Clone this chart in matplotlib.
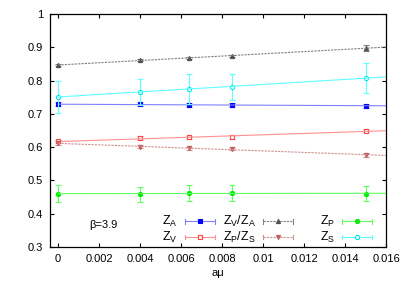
import numpy as np
import matplotlib
matplotlib.use("Agg")
import matplotlib.pyplot as plt

plt.rcParams['font.family'] = ['Liberation Sans', 'DejaVu Sans']
plt.rcParams['mathtext.fontset'] = 'custom'
plt.rcParams['mathtext.rm'] = 'Liberation Sans'
plt.rcParams['mathtext.it'] = 'Liberation Sans'

# data
amu = [0.0, 0.004, 0.0064, 0.0085, 0.015]

z_a = [0.729, 0.729, 0.726, 0.726, 0.725]
z_a_err = [0.006, 0.006, 0.006, 0.006, 0.006]

z_v = [0.617, 0.627, 0.629, 0.630, 0.649]
z_v_err = [0.005, 0.005, 0.005, 0.005, 0.005]

zv_za = [0.847, 0.861, 0.869, 0.874, 0.898]
zv_za_err = [0.003, 0.003, 0.003, 0.003, 0.008]

zp_zs = [0.611, 0.601, 0.596, 0.595, 0.576]
zp_zs_err = [0.006, 0.004, 0.004, 0.004, 0.007]

z_p = [0.460, 0.458, 0.462, 0.462, 0.460]
z_p_err = [0.025, 0.022, 0.025, 0.023, 0.022]

z_s = [0.751, 0.766, 0.776, 0.781, 0.808]
z_s_err = [0.049, 0.040, 0.045, 0.040, 0.045]

series = [
    ("$\\mathrm{Z_A}$", z_a, z_a_err, '#0000ff', '#8080ff', 's', True, '-'),
    ("$\\mathrm{Z_V}$", z_v, z_v_err, '#ff4040', '#ff9090', 's', False, '-'),
    ("$\\mathrm{Z_V/Z_A}$", zv_za, zv_za_err, '#505050', '#808080', '^', True, '--'),
    ("$\\mathrm{Z_P/Z_S}$", zp_zs, zp_zs_err, '#c06060', '#d09090', 'v', True, '--'),
    ("$\\mathrm{Z_P}$", z_p, z_p_err, '#00ee00', '#60ff60', 'o', True, '-'),
    ("$\\mathrm{Z_S}$", z_s, z_s_err, '#00e8e8', '#60ffff', 'o', False, '-'),
]

fig = plt.figure(figsize=(4.03, 2.83), dpi=100)
ax = fig.add_axes([0.124, 0.128, 0.834, 0.822])

xfit = np.linspace(0, 0.016, 50)
for label, y, err, mc, lc, mk, filled, ls in series:
    ax.errorbar(amu, y, yerr=err, fmt='none', ecolor=lc, elinewidth=0.8,
                capsize=2, capthick=0.8)
    ax.plot(amu, y, linestyle='none', marker=mk, markersize=3,
            markeredgecolor=mc, markerfacecolor=mc if filled else 'white',
            markeredgewidth=0.8)
    k, b = np.polyfit(amu, y, 1)
    ax.plot(xfit, k * xfit + b, color=lc, linewidth=0.8, linestyle=ls,
            dashes=(2, 1) if ls == '--' else (None, None))

ax.set_xlim(-0.0004, 0.016)
ax.set_ylim(0.3, 1.0)
ax.set_xticks(np.arange(0, 0.0161, 0.002))
ax.set_xticklabels(['0', '0.002', '0.004', '0.006', '0.008', '0.01',
                    '0.012', '0.014', '0.016'])
ax.set_yticks(np.arange(0.3, 1.01, 0.1))
ax.set_yticklabels(['0.3', '0.4', '0.5', '0.6', '0.7', '0.8', '0.9', '1'])
ax.tick_params(direction='in', top=True, right=True, labelsize=8, length=3,
               width=0.8, pad=5)
for s in ax.spines.values():
    s.set_linewidth(0.9)
ax.set_xlabel("a\u03bc", fontsize=8, labelpad=3)

ax.text(0.16, 0.095, "\u03b2=3.9", transform=ax.transAxes, fontsize=8,
        ha='center', va='center')

# gnuplot-style key: label right-aligned, sample to its right
label_x = [0.381, 0.612, 0.848]
sample_x = [0.402, 0.634, 0.869]
row_y = [0.110, 0.042]
sample_w = 0.09
for i, (label, y, err, mc, lc, mk, filled, ls) in enumerate(series):
    c = i // 2
    ry = row_y[i % 2]
    ax.text(label_x[c], ry, label, transform=ax.transAxes, fontsize=9,
            ha='right', va='center')
    x0, x1 = sample_x[c], sample_x[c] + sample_w
    ax.plot([x0, x1], [ry, ry], transform=ax.transAxes, color=lc,
            linewidth=0.8, linestyle=ls,
            dashes=(2, 1) if ls == '--' else (None, None), clip_on=False)
    for xe in (x0, x1):
        ax.plot([xe, xe], [ry - 0.01, ry + 0.01], transform=ax.transAxes,
                color=lc, linewidth=0.8, clip_on=False)
    ax.plot([(x0 + x1) / 2], [ry], transform=ax.transAxes, marker=mk,
            markersize=3, markeredgecolor=mc,
            markerfacecolor=mc if filled else 'white', markeredgewidth=0.8,
            clip_on=False)

fig.savefig("out.png", dpi=100)
